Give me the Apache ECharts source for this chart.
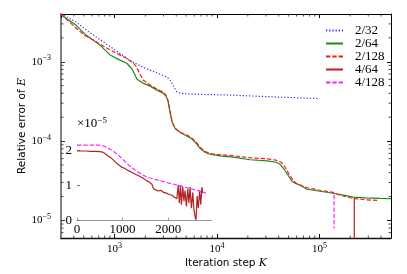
<!DOCTYPE html>
<html><head><meta charset="utf-8">
<script src="https://cdn.jsdelivr.net/npm/echarts@6/dist/echarts.min.js"></script>
<style>html,body{margin:0;padding:0;background:#fff}#c{width:407px;height:274px}</style>
</head><body><div id="c"></div>
<script>
// ---- data ----
const seriesNames = ['2/32', '2/64', '2/128', '4/64', '4/128'];

const k232 = [300, 411, 551, 807, 1175, 1470, 1983, 2782, 3253, 3479, 3720, 4045, 4355, 5455, 13400, 41300, 100000];
const e232 = [4.0e-3, 3.24e-3, 2.42e-3, 1.72e-3, 1.23e-3, 1.01e-3, 8.3e-4, 6.98e-4, 6.4e-4, 5.87e-4, 5.08e-4, 4.18e-4, 4.02e-4, 3.91e-4, 3.80e-4, 3.58e-4, 3.43e-4];

const k264 = [300, 343, 420, 526, 616, 721, 903, 1081, 1325, 1481, 1549, 1657, 1896, 2220, 2600, 2974, 3179, 3327, 3479, 3639, 3891, 4355, 5096, 5705, 6383, 6823, 7636, 8543, 10703, 14350, 21040, 30830, 37760, 41300, 45200, 49430, 54100, 57850, 64750, 75700, 101500, 135800, 178000, 213000, 279000, 391000, 500000];
const e264 = [3.94e-3, 3.46e-3, 2.90e-3, 2.17e-3, 1.88e-3, 1.62e-3, 1.22e-3, 1.08e-3, 9.5e-4, 8.1e-4, 7.2e-4, 6.04e-4, 5.38e-4, 4.93e-4, 4.39e-4, 4.02e-4, 3.69e-4, 3.19e-4, 2.32e-4, 1.73e-4, 1.45e-4, 1.29e-4, 1.15e-4, 1.06e-4, 9.1e-5, 8.1e-5, 7.24e-5, 6.83e-5, 6.50e-5, 6.26e-5, 5.82e-5, 5.62e-5, 5.41e-5, 5.10e-5, 4.41e-5, 3.71e-5, 3.11e-5, 2.94e-5, 2.77e-5, 2.47e-5, 2.33e-5, 2.20e-5, 2.07e-5, 1.97e-5, 1.92e-5, 1.89e-5, 1.88e-5];

const k2128 = [300, 328, 411, 514, 645, 807, 1010, 1265, 1481, 1620, 1733, 1896, 2220, 2600, 2974, 3179, 3327, 3479, 3639, 3891, 4355, 5096, 5705, 6383, 6823, 7636, 8543, 10703, 14350, 21040, 30830, 37760, 42270, 46240, 50570, 55320, 59200, 64750, 75700, 101500, 135800, 159000, 199000, 233000, 279000, 366000];
const e2128 = [4.0e-3, 3.56e-3, 2.74e-3, 2.14e-3, 1.83e-3, 1.53e-3, 1.31e-3, 1.13e-3, 9.9e-4, 8.8e-4, 7.4e-4, 5.87e-4, 5.08e-4, 4.52e-4, 4.14e-4, 3.80e-4, 3.28e-4, 2.45e-4, 1.78e-4, 1.45e-4, 1.29e-4, 1.19e-4, 1.09e-4, 9.4e-5, 8.4e-5, 7.45e-5, 6.93e-5, 6.73e-5, 6.54e-5, 6.16e-5, 5.98e-5, 5.74e-5, 5.41e-5, 4.68e-5, 3.82e-5, 3.21e-5, 2.94e-5, 2.81e-5, 2.58e-5, 2.40e-5, 2.26e-5, 2.07e-5, 1.93e-5, 1.87e-5, 1.82e-5, 1.79e-5];

// main-plot parts of the 4/* runs (their drop-offs)
const k464 = [219000, 219000];
const e464 = [1.9e-5, 1.0e-6];
const k4128 = [139000, 139000];
const e4128 = [2.1e-5, 7.9e-6];

// inset (linear, values in units of 1e-5)
const inset64Step = [0, 100, 200, 300, 400, 500, 560, 620, 680, 740, 800, 860, 920, 980, 1040, 1100, 1160, 1220, 1280, 1340, 1400, 1460, 1520, 1580, 1640, 1680, 1720, 1780, 1840, 1900, 1960, 2020, 2080, 2140, 2190,
  2220, 2245, 2270, 2290, 2320, 2345, 2370, 2400, 2430, 2455, 2480, 2510, 2540, 2565, 2590, 2610, 2635, 2660, 2690, 2715, 2740, 2760];
const inset64Val = [1.98, 1.98, 1.98, 1.97, 1.97, 1.96, 1.95, 1.90, 1.84, 1.79, 1.72, 1.64, 1.58, 1.52, 1.49, 1.44, 1.40, 1.36, 1.32, 1.28, 1.24, 1.20, 1.14, 1.10, 1.04, 0.90, 0.88, 0.84, 0.86, 0.80, 0.78, 0.74, 0.72, 0.66, 0.62,
  1.02, 0.50, 1.00, 0.45, 0.95, 0.55, 0.85, 0.40, 0.90, 0.50, 0.95, 0.35, 0.80, 0.30, 0.10, 0.02, 0.70, 0.35, 0.85, 0.45, 0.95, 0.78];
const inset128Step = [0, 200, 450, 600, 700, 800, 900, 1000, 1100, 1200, 1300, 1400, 1500, 1600, 1800, 2000, 2200, 2400, 2600, 2830];
const inset128Val = [2.15, 2.15, 2.15, 2.12, 2.05, 1.97, 1.87, 1.75, 1.62, 1.50, 1.41, 1.33, 1.26, 1.21, 1.14, 1.07, 1.01, 0.94, 0.87, 0.78];

// tick values
const minorTicksX = [400, 500, 600, 700, 800, 900, 2000, 3000, 4000, 5000, 6000, 7000, 8000, 9000, 20000, 30000, 40000, 50000, 60000, 70000, 80000, 90000, 200000, 300000, 400000];
const minorTicksY = [7e-6, 8e-6, 9e-6, 2e-5, 3e-5, 4e-5, 5e-5, 6e-5, 7e-5, 8e-5, 9e-5, 2e-4, 3e-4, 4e-4, 5e-4, 6e-4, 7e-4, 8e-4, 9e-4, 2e-3, 3e-3];
const insetXTicks = [0, 1000, 2000];
const insetYTicks = [0, 1, 2];

// ---- chart ----
const pairs = (a, b) => a.map((v, i) => [v, b[i]]);
const SERIF = 'Liberation Serif';
const powRich = {
  b: { fontFamily: SERIF, fontSize: 11, color: '#000', lineHeight: 15 },
  s: { fontFamily: SERIF, fontSize: 8, color: '#000', lineHeight: 9, verticalAlign: 'top' }
};
function powLabel(v) {
  const l = Math.log10(v), e = Math.round(l);
  if (Math.abs(l - e) > 1e-6) return '';
  return '{b|10}{s|' + (e < 0 ? '\u2212' + (-e) : e) + '}';
}

const colors = { '2/32': '#2a2aff', '2/64': '#1a8a1a', '2/128': '#ff1a1a', '4/64': '#b22222', '4/128': '#ff22ff' };
const dash = [4.4, 1.9];
function lineSeries(name, data, xi, yi, type) {
  return {
    name, type: 'line', xAxisIndex: xi, yAxisIndex: yi, data,
    symbol: 'none', showSymbol: false, animation: false,
    lineStyle: { color: colors[name], width: 1.2, type: type },
    itemStyle: { color: colors[name] }
  };
}
function minorTickSeries(data, horizontal) {
  return {
    type: 'custom', xAxisIndex: 0, yAxisIndex: 0, silent: true, z: 5, animation: false,
    data: data.map(v => horizontal ? [v, 1e-4] : [1000, v]),
    renderItem: (params, api) => {
      const cs = params.coordSys;
      const p = api.coord([api.value(0), api.value(1)]);
      const L = 2.5, st = { stroke: '#222', lineWidth: 0.8 };
      if (horizontal) {
        return { type: 'group', children: [
          { type: 'line', shape: { x1: p[0], y1: cs.y + cs.height, x2: p[0], y2: cs.y + cs.height - L }, style: st },
          { type: 'line', shape: { x1: p[0], y1: cs.y, x2: p[0], y2: cs.y + L }, style: st }
        ] };
      }
      return { type: 'group', children: [
        { type: 'line', shape: { x1: cs.x, y1: p[1], x2: cs.x + L, y2: p[1] }, style: st },
        { type: 'line', shape: { x1: cs.x + cs.width, y1: p[1], x2: cs.x + cs.width - L, y2: p[1] }, style: st }
      ] };
    }
  };
}

const chart = echarts.init(document.getElementById('c'), null, { renderer: 'canvas' });
chart.setOption({
  animation: false,
  backgroundColor: '#fff',
  grid: [
    { left: 61, top: 14, width: 330, height: 224 },
    { left: 77, top: 131, width: 134.5, height: 89.5 }
  ],
  legend: {
    data: seriesNames, orient: 'vertical', left: 320, top: 19,
    itemWidth: 17, itemHeight: 16, itemGap: 0,
    itemStyle: { color: 'rgba(0,0,0,0)', borderWidth: 0, opacity: 0 },
    textStyle: { fontFamily: SERIF, fontSize: 13, color: '#000', padding: [0, 0, 0, 7] }
  },
  xAxis: [
    { type: 'log', gridIndex: 0, min: 300, max: 500000, position: 'bottom',
      axisLine: { lineStyle: { color: '#111', width: 1.3 } },
      axisTick: { inside: true, length: 4, lineStyle: { color: '#111' } },
      axisLabel: { formatter: powLabel, margin: 4, rich: powRich, showMinLabel: false, showMaxLabel: false },
      splitLine: { show: false },
      name: 'Iteration step {i|K}', nameLocation: 'middle', nameGap: 20, nameMoveOverlap: false,
      nameTextStyle: { fontFamily: 'DejaVu Sans', fontSize: 10.5, color: '#000',
        rich: { i: { fontFamily: 'DejaVu Serif', fontStyle: 'italic', fontSize: 11, color: '#000' } } } },
    { type: 'log', gridIndex: 0, min: 300, max: 500000, position: 'top',
      axisLine: { lineStyle: { color: '#000', width: 1 } },
      axisTick: { inside: true, length: 4, lineStyle: { color: '#000' } },
      axisLabel: { show: false }, splitLine: { show: false } },
    { type: 'value', gridIndex: 1, min: 0, max: 2950, interval: 1000, position: 'bottom',
      axisLine: { lineStyle: { color: '#999', width: 1 } },
      axisTick: { inside: true, length: 3, lineStyle: { color: '#999' } },
      axisLabel: { margin: 3, fontFamily: SERIF, fontSize: 13, color: '#000', showMaxLabel: false,
        formatter: v => insetXTicks.indexOf(v) >= 0 ? String(v) : '' },
      splitLine: { show: false } }
  ],
  yAxis: [
    { type: 'log', gridIndex: 0, min: 6e-6, max: 4e-3, position: 'left',
      axisLine: { lineStyle: { color: '#808080', width: 2 } },
      axisTick: { inside: true, length: 4, lineStyle: { color: '#333' } },
      axisLabel: { formatter: powLabel, margin: 10, rich: powRich, showMinLabel: false, showMaxLabel: false },
      splitLine: { show: false },
      name: 'Relative error of {i|E}', nameLocation: 'middle', nameGap: 33, nameMoveOverlap: false,
      nameTextStyle: { fontFamily: 'DejaVu Sans', fontSize: 10.5, color: '#000',
        rich: { i: { fontFamily: 'DejaVu Serif', fontStyle: 'italic', fontSize: 11, color: '#000' } } } },
    { type: 'log', gridIndex: 0, min: 6e-6, max: 4e-3, position: 'right',
      axisLine: { lineStyle: { color: '#000', width: 1 } },
      axisTick: { inside: true, length: 4, lineStyle: { color: '#000' } },
      axisLabel: { show: false }, splitLine: { show: false } },
    { type: 'value', gridIndex: 1, min: 0, max: 2.55, interval: 1, position: 'left',
      axisLine: { show: false },
      axisTick: { show: true, inside: true, length: 3, lineStyle: { color: '#777' } },
      axisLabel: { margin: 5, fontFamily: SERIF, fontSize: 13, color: '#000', showMaxLabel: false,
        formatter: v => insetYTicks.indexOf(v) >= 0 ? String(v) : '' },
      splitLine: { show: false },
      name: '{t|\u00d710}{s|\u22125}', nameLocation: 'end', nameGap: -1, nameMoveOverlap: false,
      nameTextStyle: { align: 'left', rich: {
        t: { fontFamily: SERIF, fontSize: 13, color: '#000', lineHeight: 16 },
        s: { fontFamily: SERIF, fontSize: 9, color: '#000', lineHeight: 10, verticalAlign: 'top' } } } }
  ],
  series: [
    lineSeries('2/32', pairs(k232, e232), 0, 0, [1.2, 2]),
    lineSeries('2/64', pairs(k264, e264), 0, 0, 'solid'),
    lineSeries('2/128', pairs(k2128, e2128), 0, 0, dash),
    lineSeries('4/64', pairs(k464, e464), 0, 0, 'solid'),
    lineSeries('4/128', pairs(k4128, e4128), 0, 0, dash),
    lineSeries('4/64', pairs(inset64Step, inset64Val), 2, 2, 'solid'),
    lineSeries('4/128', pairs(inset128Step, inset128Val), 2, 2, dash),
    minorTickSeries(minorTicksX, true),
    minorTickSeries(minorTicksY, false)
  ]
});
</script>
</body></html>
